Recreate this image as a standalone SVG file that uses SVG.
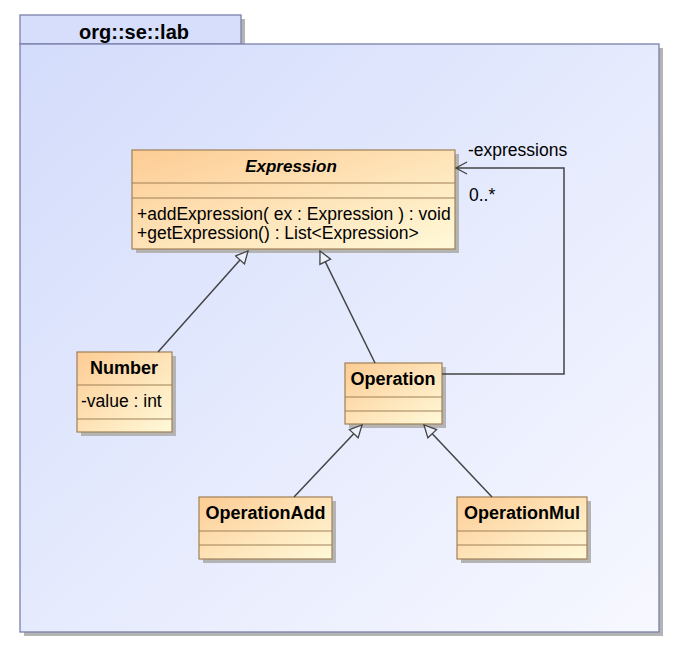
<svg xmlns="http://www.w3.org/2000/svg" width="678" height="652" viewBox="0 0 678 652">
<defs>
<linearGradient id="pkg" x1="0" y1="0" x2="1" y2="1">
<stop offset="0" stop-color="#d3dcfb"/>
<stop offset="1" stop-color="#f7f8ff"/>
</linearGradient>
<linearGradient id="cls" x1="0" y1="0" x2="1" y2="1">
<stop offset="0" stop-color="#fdcc94"/>
<stop offset="1" stop-color="#fff9d9"/>
</linearGradient>
<marker id="gen" markerWidth="14" markerHeight="14" refX="13" refY="7" orient="auto" markerUnits="userSpaceOnUse">
<path d="M1,1 L13,7 L1,13 Z" fill="#eef0fc" stroke="#444" stroke-width="1.3"/>
</marker>
<marker id="open" markerWidth="14" markerHeight="14" refX="13" refY="7" orient="auto" markerUnits="userSpaceOnUse">
<path d="M2,1 L13,7 L2,13" fill="none" stroke="#444" stroke-width="1.3"/>
</marker>
</defs>
<style>
.shadow{fill:#b4b4b4}
.box{fill:url(#cls);stroke:#a08056;stroke-width:1.2}
.sep{stroke:#a08056;stroke-width:1.2}
.name{font-family:"Liberation Sans",Arial,sans-serif;font-size:18px;font-weight:bold;fill:#000;text-anchor:middle}
.txt{font-family:"Liberation Sans",Arial,sans-serif;font-size:17.5px;fill:#000}
.edge{fill:none;stroke:#444;stroke-width:1.5}
</style>
<g id="package">
<rect x="24" y="19" width="221" height="29" class="shadow"/>
<rect x="24" y="48" width="639" height="588" class="shadow"/>
<rect x="20" y="15" width="221" height="29" fill="#d6defb" stroke="#7a80aa" stroke-width="1.3"/>
<rect x="20" y="44" width="639" height="588" fill="url(#pkg)" stroke="#7a80aa" stroke-width="1.3"/>
<text x="134" y="39" class="name" style="font-size:20px">org::se::lab</text>
</g>
<g id="Expression">
<rect x="136" y="154" width="323" height="99" class="shadow"/>
<rect x="132" y="150" width="323" height="99" class="box"/>
<line x1="132" y1="183" x2="455" y2="183" class="sep"/>
<line x1="132" y1="198" x2="455" y2="198" class="sep"/>
<text x="291" y="172" class="name" font-style="italic" style="font-size:17px">Expression</text>
<text x="137" y="220" class="txt">+addExpression( ex : Expression ) : void</text>
<text x="137" y="239" class="txt">+getExpression() : List&lt;Expression&gt;</text>
</g>
<g id="Number">
<rect x="81" y="356" width="95" height="80" class="shadow"/>
<rect x="77" y="352" width="95" height="80" class="box"/>
<line x1="77" y1="385" x2="172" y2="385" class="sep"/>
<line x1="77" y1="419" x2="172" y2="419" class="sep"/>
<text x="124" y="374" class="name">Number</text>
<text x="81" y="407" class="txt">-value : int</text>
</g>
<g id="Operation">
<rect x="349" y="367" width="97" height="61" class="shadow"/>
<rect x="345" y="363" width="97" height="61" class="box"/>
<line x1="345" y1="397" x2="442" y2="397" class="sep"/>
<line x1="345" y1="411" x2="442" y2="411" class="sep"/>
<text x="393" y="385" class="name">Operation</text>
</g>
<g id="OperationAdd">
<rect x="203" y="501" width="133" height="62" class="shadow"/>
<rect x="199" y="497" width="133" height="62" class="box"/>
<line x1="199" y1="531" x2="332" y2="531" class="sep"/>
<line x1="199" y1="545" x2="332" y2="545" class="sep"/>
<text x="265.5" y="519" class="name">OperationAdd</text>
</g>
<g id="OperationMul">
<rect x="461" y="501" width="130" height="62" class="shadow"/>
<rect x="457" y="497" width="130" height="62" class="box"/>
<line x1="457" y1="531" x2="587" y2="531" class="sep"/>
<line x1="457" y1="545" x2="587" y2="545" class="sep"/>
<text x="522" y="519" class="name">OperationMul</text>
</g>
<g id="connectors">
<line x1="158" y1="352" x2="248" y2="251" class="edge" marker-end="url(#gen)"/>
<line x1="375" y1="363" x2="320" y2="251" class="edge" marker-end="url(#gen)"/>
<line x1="294" y1="497" x2="362" y2="425" class="edge" marker-end="url(#gen)"/>
<line x1="492" y1="497" x2="424" y2="425" class="edge" marker-end="url(#gen)"/>
<polyline points="442,374 564,374 564,168 456,168" class="edge" marker-end="url(#open)"/>
<text x="468" y="156" class="txt">-expressions</text>
<text x="469" y="201" class="txt">0..*</text>
</g>
</svg>
